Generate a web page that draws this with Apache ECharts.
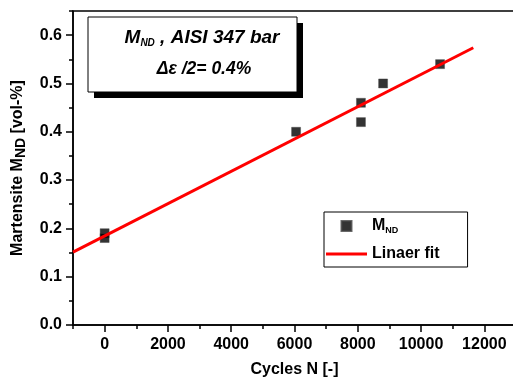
<!DOCTYPE html>
<html>
<head>
<meta charset="utf-8">
<script src="https://cdn.jsdelivr.net/npm/echarts@6/dist/echarts.min.js"></script>
<style>
  html, body { margin: 0; padding: 0; background: #fff; }
  #chart { width: 513px; height: 383px; }
</style>
</head>
<body>
<div id="chart"></div>
<script>
// Measured martensite content against number of cycles
const cycles = [0, 0, 6050, 8100, 8100, 8800, 10600];
const martensite = [0.19, 0.18, 0.40, 0.46, 0.42, 0.50, 0.54];

// Endpoints of the linear fit
const fitCycles = [-1000, 11650];
const fitMartensite = [0.151, 0.574];

// Labelled tick positions on the cycle axis
const xTickLabels = [0, 2000, 4000, 6000, 8000, 10000, 12000];

const FONT = "'Liberation Sans', Arial, sans-serif";
const AXIS_COLOR = '#000';

const chart = echarts.init(document.getElementById('chart'), null, { renderer: 'canvas' });

const xRange = { type: 'value', min: -1000, max: 13000, gridIndex: 0, position: 'bottom' };
const yRange = { type: 'value', min: 0, max: 0.65, gridIndex: 0, position: 'left' };

chart.setOption({
  animation: false,
  backgroundColor: '#fff',
  grid: {
    left: 73, top: 11, width: 443, height: 314,
    containLabel: false,
    outerBoundsMode: 'none',
    show: true, borderColor: AXIS_COLOR, borderWidth: 1.5, backgroundColor: 'transparent'
  },
  xAxis: [
    Object.assign({}, xRange, {
      interval: 1000,
      name: 'Cycles N [-]',
      nameLocation: 'middle',
      nameGap: 37,
      nameTextStyle: { fontFamily: FONT, fontWeight: 'bold', fontSize: 16, color: '#000' },
      axisLine: { show: true, onZero: false, lineStyle: { color: AXIS_COLOR, width: 1.5 } },
      axisTick: { show: true, length: 7, customValues: xTickLabels, lineStyle: { color: AXIS_COLOR, width: 1.5 } },
      axisLabel: {
        customValues: xTickLabels, margin: 12,
        fontFamily: FONT, fontWeight: 'bold', fontSize: 16, color: '#000',
        formatter: v => String(v)
      },
      splitLine: { show: false }
    }),
    // minor ticks every 1000 cycles
    Object.assign({}, xRange, {
      interval: 1000,
      axisLine: { show: false, onZero: false },
      axisTick: { show: true, length: 4, lineStyle: { color: AXIS_COLOR, width: 1.5 } },
      axisLabel: { show: false },
      splitLine: { show: false }
    })
  ],
  yAxis: [
    Object.assign({}, yRange, {
      interval: 0.1,
      name: '{t|Martensite M}{s|ND}{t| [vol-%]}',
      nameLocation: 'middle',
      nameGap: 45,
      nameTextStyle: {
        color: '#000',
        rich: {
          t: { fontFamily: FONT, fontWeight: 'bold', fontSize: 16, color: '#000' },
          s: { fontFamily: FONT, fontWeight: 'bold', fontSize: 14, color: '#000', verticalAlign: 'bottom', padding: [7, 0, 0, 0] }
        }
      },
      axisLine: { show: true, onZero: false, lineStyle: { color: AXIS_COLOR, width: 1.5 } },
      axisTick: { show: true, length: 7, lineStyle: { color: AXIS_COLOR, width: 1.5 } },
      axisLabel: {
        showMaxLabel: false, margin: 11,
        fontFamily: FONT, fontWeight: 'bold', fontSize: 16, color: '#000',
        formatter: v => v.toFixed(1)
      },
      splitLine: { show: false }
    }),
    // minor ticks every 0.05
    Object.assign({}, yRange, {
      interval: 0.05,
      axisLine: { show: false, onZero: false },
      axisTick: { show: true, length: 4, lineStyle: { color: AXIS_COLOR, width: 1.5 } },
      axisLabel: { show: false },
      splitLine: { show: false }
    })
  ],
  legend: {
    orient: 'vertical',
    left: 324, top: 212,
    padding: [6, 28, 5, 2],
    itemWidth: 41, itemHeight: 10, itemGap: 11,
    symbolKeepAspect: true,
    borderColor: '#000', borderWidth: 1,
    backgroundColor: '#fff',
    data: [
      { name: 'M_ND', icon: 'path://M0,0H10V10H0Z' },
      { name: 'Linaer fit', icon: 'path://M0,0H41V3H0Z' }
    ],
    formatter: name => name === 'M_ND' ? '{t|M}{s|ND}' : '{t|' + name + '}',
    textStyle: {
      rich: {
        t: { fontFamily: FONT, fontWeight: 'bold', fontSize: 16, color: '#000' },
        s: { fontFamily: FONT, fontWeight: 'bold', fontSize: 9, color: '#000', verticalAlign: 'bottom', padding: [9, 0, 0, 0] }
      }
    }
  },
  series: [
    {
      name: 'M_ND',
      type: 'scatter',
      xAxisIndex: 0, yAxisIndex: 0,
      symbol: 'rect', symbolSize: 9,
      itemStyle: { color: '#000', borderColor: '#444', borderWidth: 0.5 },
      data: cycles.map((c, i) => [c, martensite[i]]),
      z: 2
    },
    {
      name: 'Linaer fit',
      type: 'line',
      xAxisIndex: 0, yAxisIndex: 0,
      symbol: 'none',
      lineStyle: { color: '#ff0000', width: 3 },
      itemStyle: { color: '#ff0000' },
      data: fitCycles.map((c, i) => [c, fitMartensite[i]]),
      z: 3
    }
  ],
  graphic: [
    // annotation box with drop shadow
    { type: 'rect', x: 94, y: 23, shape: { width: 209, height: 75 }, style: { fill: '#000' }, z: 10 },
    { type: 'rect', x: 88, y: 17, shape: { width: 209, height: 75 }, style: { fill: '#fff', stroke: '#000', lineWidth: 1 }, z: 11 },
    {
      type: 'text', z: 12,
      x: 202, y: 38,
      style: {
        align: 'center', verticalAlign: 'middle',
        text: '{m|M}{s|ND}{m| , AISI 347 bar}',
        rich: {
          m: { fontFamily: FONT, fontWeight: 'bold', fontStyle: 'italic', fontSize: 19, fill: '#000' },
          s: { fontFamily: FONT, fontWeight: 'bold', fontStyle: 'italic', fontSize: 10, fill: '#000', verticalAlign: 'bottom', padding: [11, 0, 0, 0] }
        }
      }
    },
    {
      type: 'text', z: 12,
      x: 204, y: 69,
      style: {
        align: 'center', verticalAlign: 'middle',
        text: 'Δε /2= 0.4%',
        font: "italic bold 17.5px 'Liberation Sans', Arial, sans-serif",
        fill: '#000'
      }
    }
  ]
});
</script>
</body>
</html>
